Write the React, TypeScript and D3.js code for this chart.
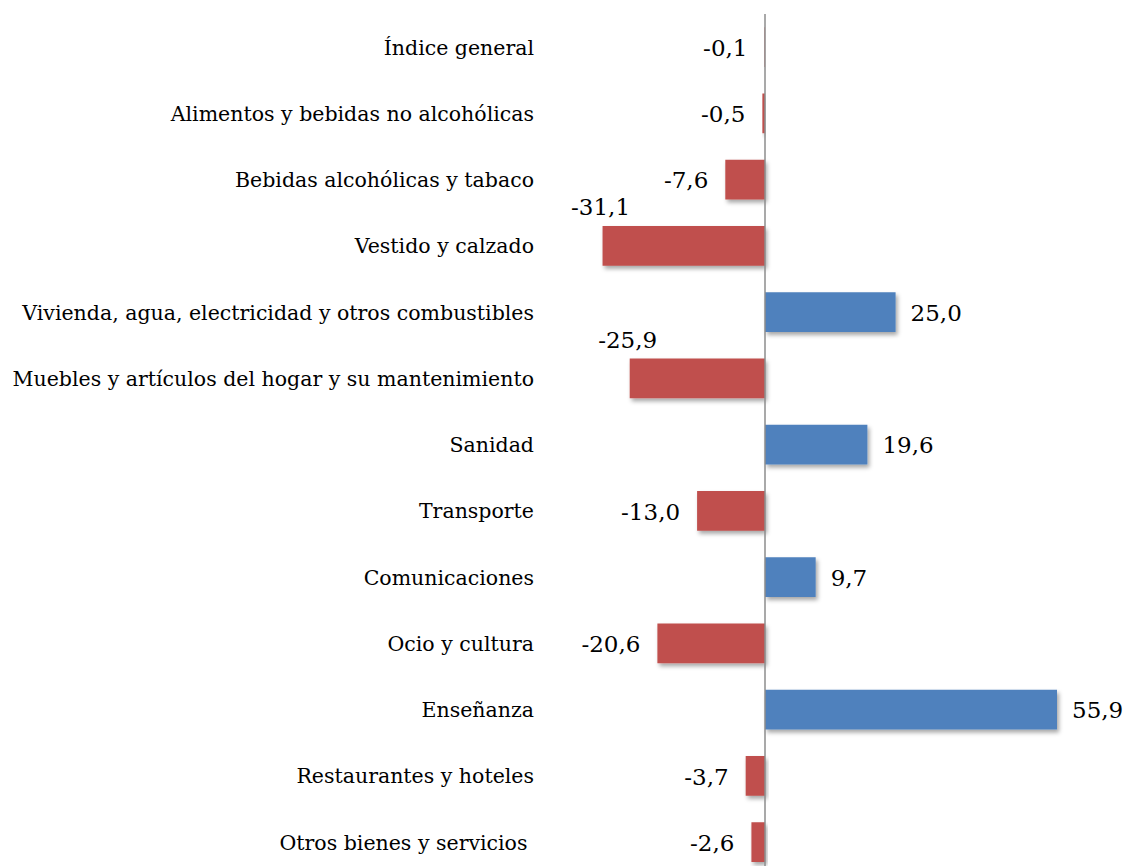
import React from "react";
import * as d3 from "d3";

const categories = [
  "Índice general",
  "Alimentos y bebidas no alcohólicas",
  "Bebidas alcohólicas y tabaco",
  "Vestido y calzado",
  "Vivienda, agua, electricidad y otros combustibles",
  "Muebles y artículos del hogar y su mantenimiento",
  "Sanidad",
  "Transporte",
  "Comunicaciones",
  "Ocio y cultura",
  "Enseñanza",
  "Restaurantes y hoteles",
  "Otros bienes y servicios ",
];

const values = [-0.1, -0.5, -7.6, -31.1, 25.0, -25.9, 19.6, -13.0, 9.7, -20.6, 55.9, -3.7, -2.6];

const W = 1129;
const H = 866;
const POS = "#4F81BD";
const NEG = "#C0504D";
const FONT = "'DejaVu Serif', serif";

export default function App() {
  const x = d3.scaleLinear().domain([0, 55.9]).range([765, 1057]);
  const y = d3
    .scaleBand<string>()
    .domain(categories)
    .range([14, 14 + 66.25 * categories.length])
    .paddingInner(0.4)
    .paddingOuter(0.2);
  const fmt = (v: number) =>
    d3.format(".1f")(v).replace("\u2212", "-").replace(".", ",");
  const bw = y.bandwidth();

  return (
    <svg
      width={W}
      height={H}
      style={{ position: "absolute", left: 0, top: 0, background: "#fff" }}
    >
      <defs>
        <filter id="shadow" x="-10%" y="-20%" width="130%" height="160%">
          <feDropShadow dx="2" dy="3" stdDeviation="2" floodColor="#000" floodOpacity="0.35" />
        </filter>
      </defs>
      {categories.map((c, i) => {
        const v = values[i];
        const x0 = x(Math.min(0, v));
        const x1 = x(Math.max(0, v));
        return (
          <rect
            key={"b" + i}
            x={x0}
            y={y(c)}
            width={Math.max(0.6, x1 - x0)}
            height={bw}
            fill={v < 0 ? NEG : POS}
            filter="url(#shadow)"
          />
        );
      })}
      <line x1={x(0)} x2={x(0)} y1={14} y2={H} stroke="#8c8c8c" strokeWidth={1.5} />
      {categories.map((c, i) => {
        const yc = (y(c) as number) + bw / 2;
        return (
          <text
            key={"c" + i}
            x={534}
            y={yc}
            dy="0.37em"
            textAnchor="end"
            fontFamily={FONT}
            fontSize={20.5}
            fill="#000"
            style={{ whiteSpace: "pre" }}
          >
            {c}
          </text>
        );
      })}
      {categories.map((c, i) => {
        const v = values[i];
        const yc = (y(c) as number) + bw / 2;
        const label = fmt(v);
        let tx: number;
        let ty = yc;
        let anchor: "start" | "end" | "middle";
        let dy = "0.38em";
        if (v >= 0) {
          tx = x(v) + 15;
          anchor = "start";
        } else if (x(v) < 640) {
          tx = x(v) - 2;
          ty = (y(c) as number) - 11;
          anchor = "middle";
          dy = "0";
        } else {
          tx = x(v) - 17;
          anchor = "end";
        }
        return (
          <text
            key={"v" + i}
            x={tx}
            y={ty}
            dy={dy}
            textAnchor={anchor}
            fontFamily={FONT}
            fontSize={23}
            fill="#000"
          >
            {label}
          </text>
        );
      })}
    </svg>
  );
}
